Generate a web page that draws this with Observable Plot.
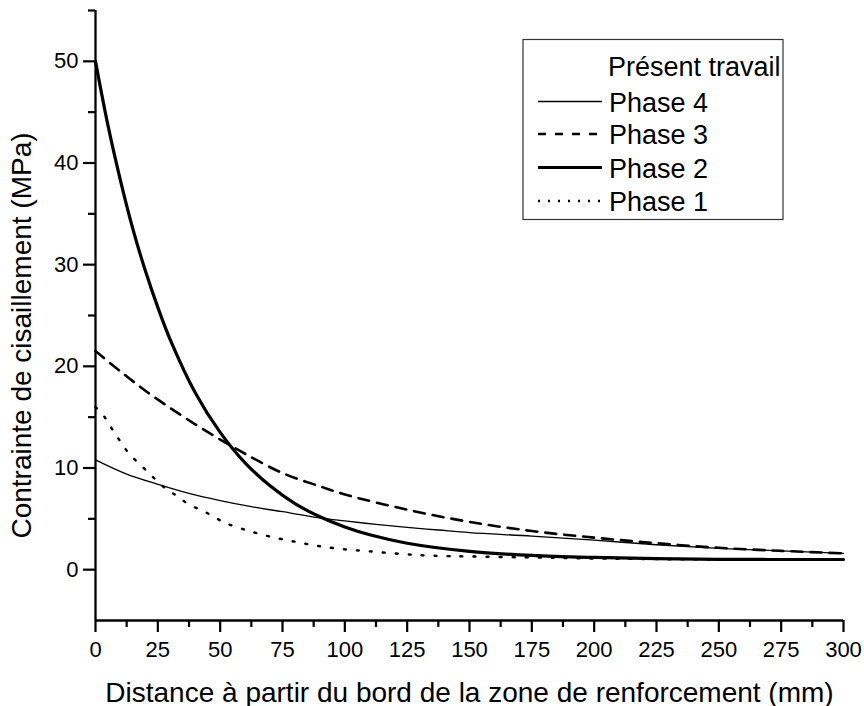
<!DOCTYPE html>
<html><head><meta charset="utf-8">
<script src="https://cdn.jsdelivr.net/npm/d3@7"></script>
<script src="https://cdn.jsdelivr.net/npm/@observablehq/plot@0.6"></script>
<style>body{margin:0;background:#fff} svg{display:block}</style>
</head><body><div id="chart"></div>
<script>
// Data
const xTitle = "Distance à partir du bord de la zone de renforcement (mm)";
const yTitle = "Contrainte de cisaillement (MPa)";
const legendTitle = "Présent travail";
const seriesNames = ["Phase 4", "Phase 3", "Phase 2", "Phase 1"];

const phase4X = [0,12.5,25,37.5,50,62.5,75,90,100,112.5,125,137.5,150,175,200,225,250,275,300];
const phase4Y = [10.8,9.4,8.4,7.5,6.8,6.2,5.7,5.1,4.8,4.45,4.15,3.9,3.65,3.3,2.9,2.45,2.1,1.85,1.6];

const phase3X = [0,10,20,30,40,50,60,75,90,100,125,150,175,200,225,250,275,300];
const phase3Y = [21.5,19.5,17.6,15.9,14.3,12.8,11.4,9.5,8.2,7.4,5.9,4.7,3.8,3.15,2.6,2.15,1.85,1.6];

const phase2X = [0,5,10,15,20,25,30,40,50,60,70,80,90,100,110,125,150,175,200,225,250,275,300];
const phase2Y = [50.0,43.7,38.3,33.5,29.4,25.8,22.6,17.4,13.5,10.5,8.25,6.5,5.2,4.2,3.43,2.6,1.8,1.4,1.2,1.08,1.02,1.0,1.0];

const phase1X = [0,4,7,10,13.5,18.5,23.5,28,33,37.5,43,47.5,52,61,71,81,90,100,110,125,135,150,175,200,250,300];
const phase1Y = [16.0,14.9,13.7,12.6,11.4,10.2,9.0,8.0,7.2,6.4,5.8,5.2,4.6,3.85,3.2,2.7,2.3,2.0,1.8,1.5,1.37,1.3,1.2,1.1,1.0,1.0];

const xMajor = [0,25,50,75,100,125,150,175,200,225,250,275,300];
const xMinor = [12.5,37.5,62.5,87.5,112.5,137.5,162.5,187.5,212.5,237.5,262.5,287.5];
const yMajor = [0,10,20,30,40,50];
const yMinor = [5,15,25,35,45,55];

const toRows = (xs, ys) => xs.map((x, i) => ({x, y: ys[i]}));
const styles = {
  "Phase 4": {strokeWidth: 1.3, dash: null, legendDash: null},
  "Phase 3": {strokeWidth: 2.6, dash: "11,8", legendDash: "8,9"},
  "Phase 2": {strokeWidth: 3.2, dash: null, legendDash: null},
  "Phase 1": {strokeWidth: 2.4, dash: "2,11", legendDash: "2,8"}
};
const series = {
  "Phase 4": toRows(phase4X, phase4Y),
  "Phase 3": toRows(phase3X, phase3Y),
  "Phase 2": toRows(phase2X, phase2Y),
  "Phase 1": toRows(phase1X, phase1Y)
};

const font = "'Liberation Sans', Arial, Helvetica, sans-serif";

const chart = Plot.plot({
  width: 864, height: 706,
  marginLeft: 95, marginRight: 21, marginTop: 10, marginBottom: 86,
  x: {domain: [0, 300]},
  y: {domain: [-5, 55]},
  style: {fontFamily: font, background: "white", color: "black"},
  marks: [
    ...seriesNames.map(n => Plot.line(series[n], {
      x: "x", y: "y", stroke: "black", curve: "catmull-rom",
      strokeWidth: styles[n].strokeWidth,
      strokeDasharray: styles[n].dash || undefined
    })),
    Plot.ruleX([0], {stroke: "black", strokeWidth: 2.3}),
    Plot.ruleY([-5], {stroke: "black", strokeWidth: 2.3}),
    Plot.axisX({ticks: xMajor, tickSize: 12, tickPadding: 9, fontSize: 22, strokeWidth: 2.2, label: null}),
    Plot.axisX({ticks: xMinor, tickSize: 7, tickFormat: () => "", strokeWidth: 2.2, label: null}),
    Plot.axisY({ticks: yMajor, tickSize: 12, tickPadding: 5, fontSize: 22, strokeWidth: 2.2, label: null}),
    Plot.axisY({ticks: yMinor, tickSize: 7, tickFormat: () => "", strokeWidth: 2.2, label: null}),
    Plot.text([xTitle], {frameAnchor: "bottom", dy: 81, fontSize: 28, lineAnchor: "bottom", textAnchor: "middle", fill: "black"}),
    Plot.text([yTitle], {frameAnchor: "left", dx: -73, dy: 20, rotate: -90, fontSize: 28, textAnchor: "middle", fill: "black"})
  ]
});
document.getElementById("chart").appendChild(chart);

// Legend box inside the plot area
const svg = d3.select(chart);
const lg = svg.append("g").attr("font-family", font).attr("font-size", 27)
  .attr("fill", "black").attr("text-anchor", "start");
lg.append("rect").attr("x", 523).attr("y", 39.5).attr("width", 260).attr("height", 180)
  .attr("fill", "white").attr("stroke", "#333").attr("stroke-width", 1.2);
lg.append("text").attr("x", 608).attr("y", 76).text(legendTitle);
const rowBase = [111.5, 144, 177.5, 211];
seriesNames.forEach((n, i) => {
  const b = rowBase[i];
  lg.append("line").attr("x1", 538).attr("x2", 602).attr("y1", b - 10).attr("y2", b - 10)
    .attr("stroke", "black").attr("stroke-width", styles[n].strokeWidth)
    .attr("stroke-dasharray", styles[n].legendDash);
  lg.append("text").attr("x", 609).attr("y", b).text(n);
});
</script>
</body></html>
